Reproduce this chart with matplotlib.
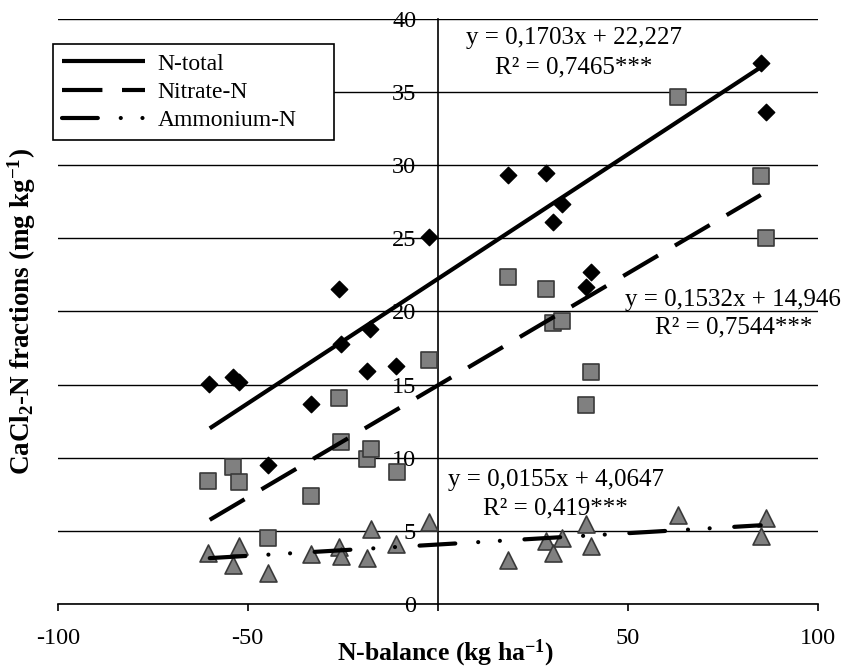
import matplotlib
matplotlib.use("Agg")
import matplotlib.pyplot as plt
import numpy as np
from matplotlib.lines import Line2D

plt.rcParams["font.family"] = ["Liberation Serif", "DejaVu Serif"]
plt.rcParams["mathtext.fontset"] = "custom"
plt.rcParams["mathtext.rm"] = "Liberation Serif"
plt.rcParams["mathtext.bf"] = "Liberation Serif:bold"
plt.rcParams["mathtext.default"] = "bf"
plt.rcParams["axes.unicode_minus"] = False

# N-balance (kg/ha) and CaCl2-N fractions (mg/kg)
x_total = [-60.3, -54.0, -52.3, -44.6, -33.3, -26.0, -25.5, -18.7, -17.8, -11.0,
           -2.2, 18.6, 28.4, 30.4, 32.6, 38.9, 40.3, 85.0, 86.4]
y_total = [15.06, 15.5, 15.15, 9.5, 13.7, 21.56, 17.8, 15.95, 18.8, 16.27,
           25.1, 29.33, 29.5, 26.14, 27.35, 21.7, 22.68, 36.97, 33.66]

x_nitrate = [-60.4, -54.0, -52.3, -44.6, -33.3, -26.0, -25.5, -18.5, -17.6, -10.8,
             -2.2, 18.6, 28.4, 30.4, 32.6, 38.9, 40.3, 63.1, 85.1, 86.4]
y_nitrate = [8.43, 9.39, 8.36, 4.49, 7.38, 14.06, 11.05, 9.91, 10.6, 9.0,
             16.7, 22.38, 21.52, 19.24, 19.35, 13.6, 15.84, 34.69, 29.29, 25.05]

x_ammonium = [-60.4, -54.0, -52.3, -44.6, -33.3, -26.0, -25.5, -18.5, -17.6, -11.0,
              -2.2, 18.6, 28.4, 30.4, 32.6, 38.9, 40.3, 63.1, 85.1, 86.4]
y_ammonium = [3.51, 2.67, 3.97, 2.14, 3.4, 3.87, 3.28, 3.12, 5.13, 4.08,
              5.58, 3.0, 4.33, 3.51, 4.49, 5.47, 3.97, 6.08, 4.67, 5.86]

# regression lines (slope, intercept) as printed on the chart
fit_total = (0.1703, 22.227)
fit_nitrate = (0.1532, 14.946)
fit_ammonium = (0.0155, 4.0647)
fit_range = (-60, 85)

eq_total = ["y = 0,1703x + 22,227", "R\u00b2 = 0,7465***"]
eq_nitrate = ["y = 0,1532x + 14,946", "R\u00b2 = 0,7544***"]
eq_ammonium = ["y = 0,0155x + 4,0647", "R\u00b2 = 0,419***"]

x_ticks = [-100, -50, 0, 50, 100]
x_ticklabels = ["-100", "-50", "", "50", "100"]   # 0 is labelled on the y axis only

GRAY = "#808080"
EDGE = "#3a3a3a"
LW = 3
DASH_NIT = (0, (9.7, 4.7))
DASH_AMM = (0, (8.6, 5.5, 0.01, 5.2, 0.01, 5.9))

fig = plt.figure(figsize=(8.49, 6.69), dpi=100, facecolor="white")
ax = fig.add_axes([0.068, 0.0972, 0.8952, 0.8744])

ax.set_xlim(-100, 100)
ax.set_ylim(0, 40)
ax.set_yticks(np.arange(0, 41, 5))
ax.set_xticks(x_ticks)
ax.set_xticklabels(x_ticklabels)
ax.grid(axis="y", color="black", lw=1)
ax.set_axisbelow(True)

for sp in ("top", "right"):
    ax.spines[sp].set_visible(False)
ax.spines["left"].set_position(("data", 0))
ax.spines["left"].set_linewidth(1.2)
ax.spines["bottom"].set_linewidth(1.2)
ax.tick_params(axis="x", direction="out", length=5, width=1.2, pad=12, labelsize=17.5)
ax.tick_params(axis="y", length=0, pad=15.5, labelsize=17.5)

# data points
ax.scatter(x_nitrate, y_nitrate, marker="s", s=130, color=GRAY, edgecolor=EDGE,
           linewidth=1.2, zorder=3)
ax.scatter(x_ammonium, y_ammonium, marker="^", s=150, color=GRAY, edgecolor=EDGE,
           linewidth=1.2, zorder=3)
ax.scatter(x_total, y_total, marker="D", s=70, color="black", zorder=3)

# trend lines
xf = np.array(fit_range)
ax.plot(xf, fit_total[0] * xf + fit_total[1], color="black", lw=LW,
        solid_capstyle="butt", zorder=4)
ax.plot(xf, fit_nitrate[0] * xf + fit_nitrate[1], color="black", lw=LW,
        ls=DASH_NIT, zorder=4)
ax.plot(xf, fit_ammonium[0] * xf + fit_ammonium[1], color="black", lw=LW,
        ls=DASH_AMM, dash_capstyle="round", zorder=4)

# equations
for (lines, ex, ey1, ey2) in [(eq_total, 35.8, 38.7, 36.7),
                              (eq_nitrate, 77.8, 20.8, 18.9),
                              (eq_ammonium, 31.0, 8.5, 6.55)]:
    ax.text(ex, ey1, lines[0], ha="center", va="center", fontsize=18, zorder=5)
    ax.text(ex, ey2, lines[1], ha="center", va="center", fontsize=18, zorder=5)

ax.set_xlabel("N-balance (kg ha$^{-1}$)", fontsize=18.5, fontweight="bold")
ax.xaxis.set_label_coords(0.51, -0.057)
ax.set_ylabel("CaCl$_{2}$-N fractions (mg kg$^{-1}$)", fontsize=19.5, fontweight="bold")
ax.yaxis.set_label_coords(-0.026, 0.5)

handles = [
    Line2D([], [], color="black", lw=LW, solid_capstyle="butt"),
    Line2D([], [], color="black", lw=LW, ls=DASH_NIT),
    Line2D([], [], color="black", lw=LW, ls=DASH_AMM, dash_capstyle="round"),
]
leg_h = 94 / 669
leg = fig.legend(handles, ["N-total", "Nitrate-N", "Ammonium-N"],
                 loc="upper left", bbox_to_anchor=(0.0624, 0.934 - leg_h, 0.331, leg_h),
                 mode="expand", borderaxespad=0,
                 fontsize=17, handlelength=3.5, handletextpad=0.55,
                 labelspacing=0.28, borderpad=0.38, fancybox=False,
                 framealpha=1, edgecolor="black")
leg.get_frame().set_linewidth(1.2)

fig.savefig("out.png", dpi=100, facecolor="white")
